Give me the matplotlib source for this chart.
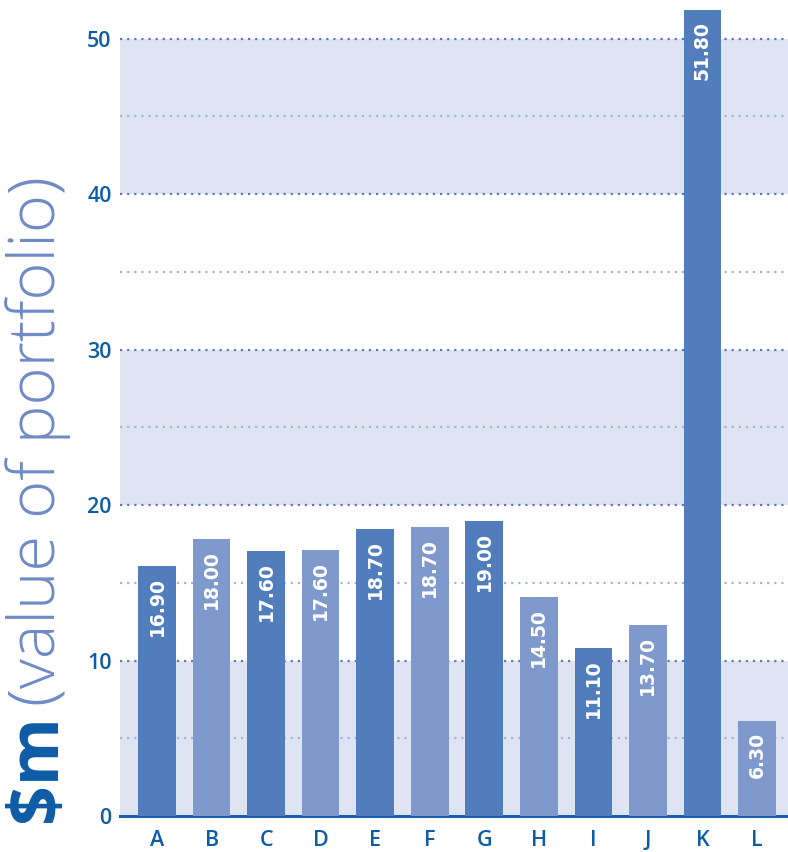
import matplotlib
matplotlib.use("Agg")
import matplotlib.pyplot as plt


CATEGORIES = ["A", "B", "C", "D", "E", "F", "G", "H", "I", "J", "K", "L"]
HEIGHTS = [16.1, 17.8, 17.05, 17.1, 18.45, 18.6, 18.95, 14.1, 10.8, 12.3, 51.85, 6.1]
LABELS = ["16.90", "18.00", "17.60", "17.60", "18.70", "18.70",
          "19.00", "14.50", "11.10", "13.70", "51.80", "6.30"]
Y_TICKS = [0, 10, 20, 30, 40, 50]
BANDS = [(0, 10), (20, 30), (40, 50)]

DARK = "#527dbd"
LIGHT = "#7f99cc"
BAND = "#dfe4f2"
TEXT_BLUE = "#0d5ca6"
LABEL_LIGHT = "#6f8ac6"

plt.rcParams["font.family"] = ["Open Sans", "DejaVu Sans"]

fig = plt.figure(figsize=(7.88, 8.52), dpi=100)
ax = fig.add_axes([120 / 788, 1 - 816 / 852, 668 / 788, 816 / 852])

xs = list(range(len(CATEGORIES)))
ax.set_xlim(-0.68, len(CATEGORIES) - 0.43)
ax.set_ylim(0, 52.48)

for lo, hi in BANDS:
  ax.axhspan(lo, hi, color=BAND, lw=0, zorder=0)

for v in range(5, 51, 5):
  major = v % 10 == 0
  ax.axhline(
    v, color="#5b78c0" if major else "#a3b4de",
    lw=1.6, ls=(0, (1, 2.2)), zorder=1,
  )

ax.axhline(0, color="#1a5fae", lw=2.2, zorder=2, clip_on=False)

colors = [DARK if i % 2 == 0 else LIGHT for i in xs]
bars = ax.bar(xs, HEIGHTS, width=0.69, color=colors, zorder=3)

for b, lab in zip(bars, LABELS):
  ax.annotate(
    lab, (b.get_x() + b.get_width() / 2, b.get_height()),
    xytext=(0, -8), textcoords="offset points",
    rotation=90, ha="center", va="top",
    color="white", fontsize=13.5, fontweight="bold",
    family="DejaVu Sans", zorder=4,
  )

for s in ax.spines.values():
  s.set_visible(False)

ax.set_yticks(Y_TICKS)
ax.set_yticklabels([str(t) for t in Y_TICKS], fontweight="semibold")
ax.set_xticks(xs)
ax.set_xticklabels(CATEGORIES, fontweight="semibold")
ax.tick_params(axis="both", length=0, colors=TEXT_BLUE, labelsize=15.5)
ax.tick_params(axis="y", pad=6)
ax.tick_params(axis="x", pad=10)

fig.text(
  38 / 788, 1 - 822 / 852, "$m",
  rotation=90, ha="center", va="bottom",
  color=TEXT_BLUE, fontsize=50, fontweight="bold",
)
fig.text(
  38 / 788, 1 - 706 / 852, "(value of portfolio)",
  rotation=90, ha="center", va="bottom",
  color=LABEL_LIGHT, fontsize=47, fontweight="light",
)

fig.savefig("out.png", dpi=100)
